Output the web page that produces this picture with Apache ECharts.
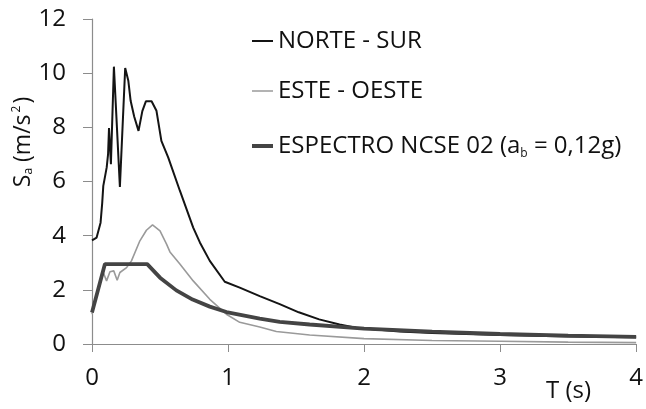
<!DOCTYPE html>
<html><head><meta charset="utf-8">
<script src="https://cdn.jsdelivr.net/npm/echarts@6/dist/echarts.min.js"></script>
<style>html,body{margin:0;padding:0;background:#fff}#c{width:646px;height:409px}</style>
</head><body><div id="c"></div>
<script>
// NORTE - SUR
const nsT = [0, 0.034, 0.063, 0.075, 0.083, 0.1, 0.108, 0.118, 0.125, 0.139, 0.161, 0.205, 0.244, 0.267, 0.284, 0.31, 0.342, 0.37, 0.396, 0.438, 0.474, 0.51, 0.56, 0.646, 0.744, 0.793, 0.866, 0.976, 1.086, 1.233, 1.38, 1.52, 1.67, 1.82, 1.94, 2.26, 2.5, 3.0, 3.5, 4.0];
const nsS = [3.83, 3.93, 4.48, 5.2, 5.84, 6.3, 6.52, 7.0, 7.97, 6.64, 10.24, 5.8, 10.19, 9.72, 8.98, 8.4, 7.87, 8.6, 8.96, 8.96, 8.61, 7.5, 6.89, 5.66, 4.3, 3.75, 3.07, 2.3, 2.08, 1.77, 1.47, 1.17, 0.91, 0.72, 0.6, 0.46, 0.41, 0.33, 0.28, 0.25];
// ESTE - OESTE
const eoT = [0, 0.04, 0.07, 0.083, 0.107, 0.132, 0.16, 0.185, 0.205, 0.254, 0.29, 0.352, 0.4, 0.445, 0.5, 0.548, 0.573, 0.646, 0.744, 0.866, 0.988, 1.086, 1.233, 1.355, 1.6, 2.0, 2.5, 3.0, 3.5, 4.0];
const eoS = [1.1, 1.9, 2.4, 2.64, 2.33, 2.67, 2.7, 2.35, 2.64, 2.82, 3.07, 3.81, 4.2, 4.4, 4.18, 3.69, 3.4, 2.95, 2.33, 1.65, 1.1, 0.8, 0.63, 0.46, 0.33, 0.2, 0.13, 0.1, 0.07, 0.05];
// ESPECTRO NCSE 02
const ncT = [0, 0.095, 0.406, 0.5, 0.62, 0.74, 0.866, 0.988, 1.233, 1.38, 1.6, 2.0, 2.5, 3.0, 3.5, 4.0];
const ncS = [1.16, 2.95, 2.95, 2.45, 1.98, 1.64, 1.38, 1.18, 0.94, 0.82, 0.72, 0.57, 0.46, 0.37, 0.31, 0.26];

const names = ['NORTE - SUR', 'ESTE - OESTE', 'ESPECTRO NCSE 02'];
const xTicks = [0, 1, 2, 3, 4];
const yTicks = [0, 2, 4, 6, 8, 10, 12];

const zip = (a, b) => a.map((v, i) => [v, b[i]]);
const FONT = 'Open Sans';
const chart = echarts.init(document.getElementById('c'));
const legendBase = {
  orient: 'vertical', left: 247, itemWidth: 21, itemGap: 0, icon: 'rect',
  textStyle: { fontFamily: FONT, fontSize: 24, color: '#111', lineHeight: 28,
    rich: { sub: { fontFamily: FONT, fontSize: 12, color: '#111', verticalAlign: 'bottom', padding: [13, 0, 0, 0] },
            n: { fontFamily: FONT, fontSize: 24, color: '#111' } } },
  selectedMode: false
};
chart.setOption({
  animation: false,
  backgroundColor: '#fff',
  grid: { left: 92, right: 9, top: 19, bottom: 65, containLabel: false },
  xAxis: {
    type: 'value', min: 0, max: 4, interval: 1,
    axisLine: { lineStyle: { color: '#8c8c8c', width: 1.2 } },
    axisTick: { show: true, length: 8, lineStyle: { color: '#8c8c8c' } },
    axisLabel: { fontFamily: FONT, fontSize: 24, color: '#111', margin: 22,
      formatter: v => xTicks.includes(v) ? String(v) : '' },
    splitLine: { show: false }
  },
  yAxis: {
    type: 'value', min: 0, max: 12, interval: 2,
    axisLine: { show: true, lineStyle: { color: '#8c8c8c', width: 1.2 } },
    axisTick: { show: true, length: 9, lineStyle: { color: '#8c8c8c' } },
    axisLabel: { fontFamily: FONT, fontSize: 24, color: '#111', margin: 26,
      formatter: v => yTicks.includes(v) ? String(v) : '' },
    splitLine: { show: false }
  },
  legend: [
    Object.assign({}, legendBase, { top: 22, itemHeight: 2, data: [names[0]] }),
    Object.assign({}, legendBase, { top: 72, itemHeight: 1.5, data: [names[1]] }),
    Object.assign({}, legendBase, { top: 127, itemHeight: 4, data: [names[2]],
      formatter: () => '{n|ESPECTRO NCSE 02 (a}{sub|b}{n| = 0,12g)}' })
  ],
  graphic: [
    { type: 'text', x: 23, y: 142, rotation: Math.PI / 2,
      style: { text: '{n|S}{sub|a}{n| (m/s}{sup|2}{n|)}', align: 'center', verticalAlign: 'middle',
        rich: { n: { fontFamily: FONT, fontSize: 23, fill: '#111' },
                sub: { fontFamily: FONT, fontSize: 12, fill: '#111', padding: [11, 0, 0, 0] },
                sup: { fontFamily: FONT, fontSize: 12, fill: '#111', padding: [0, 2, 12, 2] } } } },
    { type: 'text', left: 546, top: 379,
      style: { text: 'T (s)', fontFamily: FONT, fontSize: 24, fill: '#111' } }
  ],
  series: [
    { name: names[0], type: 'line', data: zip(nsT, nsS), symbol: 'none', z: 3,
      lineStyle: { color: '#141414', width: 2 }, itemStyle: { color: '#141414' } },
    { name: names[1], type: 'line', data: zip(eoT, eoS), symbol: 'none', z: 2,
      lineStyle: { color: '#9a9a9a', width: 1.6 }, itemStyle: { color: '#9a9a9a' } },
    { name: names[2], type: 'line', data: zip(ncT, ncS), symbol: 'none', z: 4, smooth: false,
      lineStyle: { color: '#444', width: 3.8 }, itemStyle: { color: '#444' } }
  ]
});
</script></body></html>
